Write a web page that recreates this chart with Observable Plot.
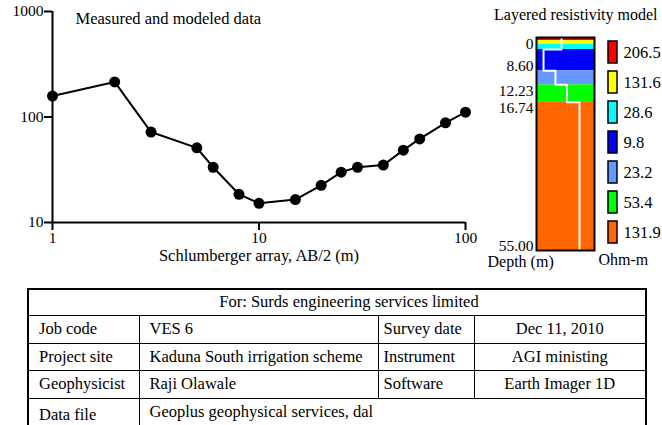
<!DOCTYPE html>
<html><head><meta charset="utf-8">
<script src="https://cdn.jsdelivr.net/npm/d3@7"></script>
<script src="https://cdn.jsdelivr.net/npm/@observablehq/plot@0.6"></script>
<style>
body{margin:0;background:#fff;font-family:"Liberation Serif","Times New Roman","DejaVu Serif",serif;color:#000;}
#wrap{position:relative;width:662px;height:425px;overflow:hidden;background:#fff;}
.abs{position:absolute;}
.lbl{position:absolute;line-height:1;white-space:nowrap;}
table{position:absolute;left:27px;top:288px;border-collapse:collapse;font-size:16.5px;border:2px solid #000;table-layout:fixed;}
td{border:1.5px solid #000;padding:0 0 0 10px;white-space:nowrap;overflow:hidden;}
</style>
</head><body>
<div id="wrap">
  <div class="abs" id="main" style="left:0;top:0"></div>
  <div class="abs" id="col" style="left:480px;top:0"></div>
  <div class="abs" id="leg" style="left:590px;top:0"></div>
  <div class="lbl" style="left:494px;top:7px;font-size:16px">Layered resistivity model</div>
  <table id="info"></table>
</div>
<script>
// ---- Data ----
const spacing = [1, 2, 3, 5, 6, 8, 10, 15, 20, 25, 30, 40, 50, 60, 80, 100];
const apparentRho = [158, 215, 72, 51, 33.4, 18.5, 15.2, 16.5, 22.5, 30, 33.4, 35, 48.5, 62, 88, 111];
const xTicks = [1, 10, 100];
const yTicks = [10, 100, 1000];

const layerTop = [0, 0.8, 1.8, 3.1, 8.6, 12.23, 16.74];
const layerBottom = [0.8, 1.8, 3.1, 8.6, 12.23, 16.74, 55];
const layerRho = [206.5, 131.6, 28.6, 9.8, 23.2, 53.4, 131.9];
const layerColors = ["#ff0000", "#ffff00", "#00ffff", "#0000ff", "#6699ff", "#00ff00", "#ff6600"];
const profileRho = [36, 36, 36, 9.8, 23.2, 53.4, 131.9];
const depthTicks = [0, 8.6, 12.23, 16.74, 55];
const depthLabels = ["0", "8.60", "12.23", "16.74", "55.00"];

const tableHeader = "For: Surds engineering services limited";
const tableRows = [
  ["Job code", "VES 6", "Survey date", "Dec 11, 2010"],
  ["Project site", "Kaduna South irrigation scheme", "Instrument", "AGI ministing"],
  ["Geophysicist", "Raji Olawale", "Software", "Earth Imager 1D"]
];
const lastRow = ["Data file", "Geoplus geophysical services, dal"];

const font = "'Liberation Serif', 'Times New Roman', 'DejaVu Serif', serif";
const baseStyle = {fontFamily: font, color: "#000", background: "transparent", maxWidth: "none", overflow: "visible"};

// ---- Main sounding curve ----
const sounding = spacing.map((s, i) => ({s, rho: apparentRho[i]}));
const main = Plot.plot({
  width: 480, height: 280,
  marginLeft: 52, marginRight: 15, marginTop: 11, marginBottom: 58,
  style: {...baseStyle, fontSize: "15px"},
  x: {type: "log", domain: [1, 100]},
  y: {type: "log", domain: [10, 1000]},
  marks: [
    Plot.axisX({ticks: xTicks, tickFormat: d => String(d), tickSize: 8, tickPadding: 1, strokeWidth: 2, label: null, fontSize: 15.5}),
    Plot.axisY({ticks: yTicks, tickFormat: d => String(d), tickSize: 8, tickPadding: 1, strokeWidth: 2, label: null, fontSize: 15.5}),
    Plot.ruleY([10], {stroke: "#000", strokeWidth: 2}),
    Plot.ruleX([1], {stroke: "#000", strokeWidth: 2}),
    Plot.line(sounding, {x: "s", y: "rho", stroke: "#000", strokeWidth: 2}),
    Plot.dot(sounding, {x: "s", y: "rho", r: 5.5, fill: "#000"}),
    Plot.text(["Measured and modeled data"], {frameAnchor: "top-left", dx: 23, dy: 1, fontSize: 16.5}),
    Plot.text(["Schlumberger array, AB/2 (m)"], {frameAnchor: "bottom", lineAnchor: "middle", dy: 33, fontSize: 16.5})
  ]
});
document.getElementById("main").appendChild(main);

// ---- Layered model column ----
const layers = layerTop.map((t, i) => ({top: t, bottom: layerBottom[i], color: layerColors[i]}));
const profile = layerTop.flatMap((t, i) => [{rho: profileRho[i], d: t}, {rho: profileRho[i], d: layerBottom[i]}]);
const depthData = depthTicks.map((d, i) => ({d, label: depthLabels[i], anchor: (i === 1 || i === depthTicks.length - 1) ? "bottom" : "top"}));
const col = Plot.plot({
  width: 120, height: 280,
  marginLeft: 56, marginRight: 6, marginTop: 37, marginBottom: 30,
  style: {...baseStyle, fontSize: "15px"},
  x: {type: "log", domain: [5.9, 389], axis: null},
  y: {domain: [0, 55], range: [37, 250], axis: null},
  color: {type: "identity"},
  marks: [
    Plot.rect(layers, {y1: "top", y2: "bottom", fill: "color"}),
    Plot.line(profile, {x: "rho", y: "d", stroke: "#fff", strokeWidth: 2}),
    Plot.frame({stroke: "#000", strokeWidth: 2}),
    Plot.text(depthData.filter(d => d.anchor === "top"), {y: "d", text: "label", frameAnchor: "left", textAnchor: "end", lineAnchor: "top", dx: -3, fontSize: 15.5}),
    Plot.text(depthData.filter(d => d.anchor === "bottom"), {y: "d", text: "label", frameAnchor: "left", textAnchor: "end", lineAnchor: "bottom", dx: -3, dy: 0, fontSize: 15.5}),
    Plot.text(["Depth (m)"], {frameAnchor: "bottom-left", textAnchor: "start", lineAnchor: "top", dx: -49, dy: 5, fontSize: 16})
  ]
});
document.getElementById("col").appendChild(col);

// ---- Legend ----
const legendData = layerRho.map((r, i) => ({label: String(r), color: layerColors[i]}));
const leg = Plot.plot({
  width: 72, height: 280,
  marginLeft: 18, marginRight: 45, marginTop: 36, marginBottom: 32,
  style: {...baseStyle, fontSize: "16px"},
  x: {domain: [0, 1], axis: null},
  y: {type: "band", domain: legendData.map(d => d.label), range: [36, 248], padding: 0, axis: null},
  color: {type: "identity"},
  marks: [
    Plot.barX(legendData, {x1: 0, x2: 1, y: "label", fill: "color", stroke: "#000", strokeWidth: 1.5, insetTop: 4, insetBottom: 4}),
    Plot.text(legendData, {x: 1, y: "label", text: "label", dx: 6, textAnchor: "start", fontSize: 16.5}),
    Plot.text(["Ohm-m"], {frameAnchor: "bottom-left", textAnchor: "start", lineAnchor: "top", dx: -10, dy: 5, fontSize: 16})
  ]
});
document.getElementById("leg").appendChild(leg);

// ---- Info table ----
const colW = [111, 239, 96, 172];
const rowH = [28, 27, 28];
const tbl = document.getElementById("info");
let html = "<colgroup>" + colW.map(w => `<col style="width:${w}px">`).join("") + "</colgroup>";
html += `<tr style="height:26px"><td colspan="4" style="text-align:center;padding-left:24px">${tableHeader}</td></tr>`;
tableRows.forEach((r, i) => {
  html += `<tr style="height:${rowH[i]}px"><td>${r[0]}</td><td>${r[1]}</td><td style="padding-left:5px">${r[2]}</td><td style="text-align:center;padding:0 0 0 0">${r[3]}</td></tr>`;
});
html += `<tr style="height:34px"><td>${lastRow[0]}</td><td colspan="3" style="vertical-align:top;padding-top:3px">${lastRow[1]}</td></tr>`;
tbl.innerHTML = html;
</script>
</body></html>
